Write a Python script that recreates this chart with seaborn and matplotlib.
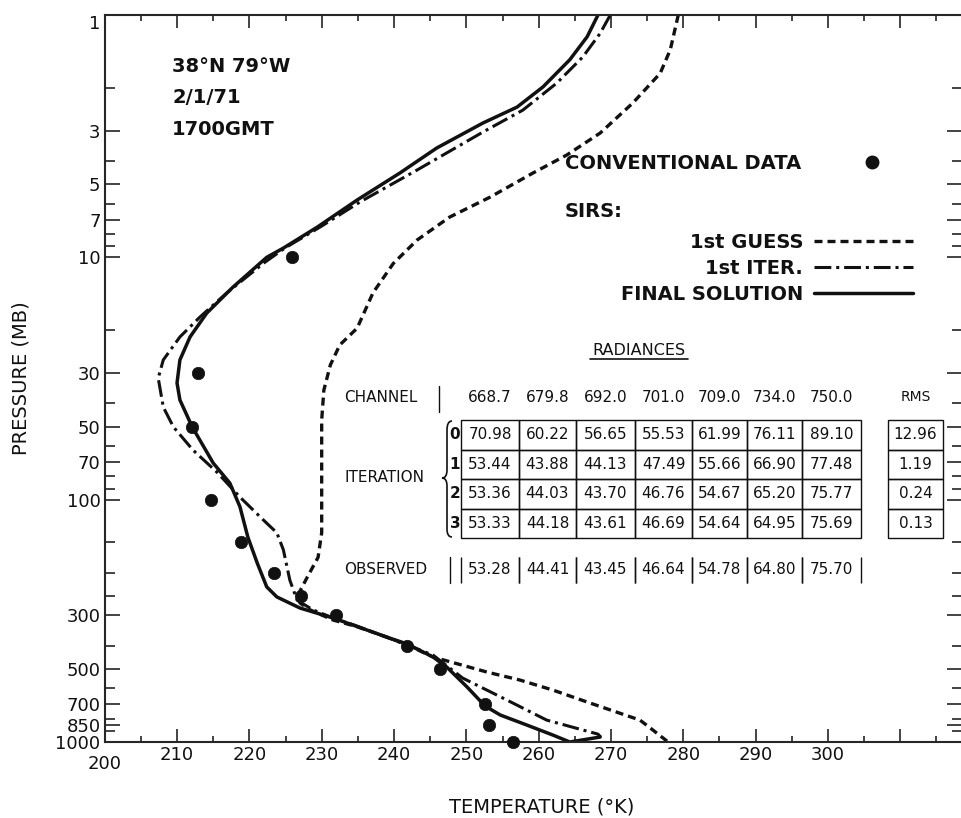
import numpy as np
import matplotlib
matplotlib.use('Agg')
import matplotlib.pyplot as plt
import matplotlib.transforms as mtransforms
import seaborn as sns
from matplotlib.lines import Line2D
from matplotlib.path import Path
from matplotlib.patches import PathPatch
from matplotlib.ticker import NullFormatter

# ── Data ─────────────────────────────────────────────────────────────────────
final_t = [268.2, 266.7, 264.3, 260.6, 257.0, 252.3, 245.9, 240.8, 234.9, 229.4,
           224.7, 222.4, 217.7, 214.1, 211.8, 210.4, 210.0, 210.4, 212.1, 215.0,
           217.3, 218.7, 219.8, 221.1, 222.4, 223.8, 227.0, 231.6, 234.3, 239.0,
           241.8, 245.4, 247.3, 250.1, 252.6, 254.7, 258.4, 262.0, 264.3, 268.5]
final_p = [1.0, 1.23, 1.53, 1.98, 2.40, 2.79, 3.54, 4.49, 5.80, 7.50,
           9.16, 10.0, 13.3, 17.0, 21.3, 26.5, 33.0, 38.8, 50.1, 70.6,
           85.4, 107, 143, 183, 229, 252, 280, 308, 329, 369,
           394, 446, 491, 593, 711, 774, 852, 937, 1000, 954]

iter_t = [269.9, 268.5, 266.1, 262.5, 257.8, 252.3, 243.2, 235.3, 230.0, 224.9,
          222.1, 216.9, 213.2, 210.4, 208.1, 207.4, 208.1, 209.5, 212.2, 215.5,
          218.7, 221.9, 223.8, 224.7, 225.6, 226.6, 228.8, 231.6, 234.6, 238.8,
          241.8, 245.4, 249.5, 255.6, 261.1, 268.2, 268.6]
iter_p = [1.0, 1.19, 1.49, 1.91, 2.47, 3.04, 4.36, 5.91, 7.43, 9.16,
          10.5, 14.0, 17.6, 21.3, 26.5, 31.5, 41.5, 50.1, 62.4, 76.9,
          97.6, 121, 137, 161, 215, 260, 285, 308, 330, 368,
          398, 438, 545, 671, 812, 928, 955]

guess_t = [279.3, 278.2, 276.8, 273.0, 268.5, 263.9, 259.2, 253.3, 247.7, 243.2,
           239.9, 237.1, 234.9, 232.5, 231.2, 230.3, 230.0, 230.0, 230.0, 229.5,
           228.0, 226.7, 227.0, 228.4, 231.6, 235.0, 239.0, 241.8, 245.4, 252.9,
           257.4, 262.0, 266.7, 274.0, 275.8, 277.9]
guess_p = [1.0, 1.39, 1.74, 2.31, 3.07, 3.78, 4.49, 5.64, 6.82, 8.48,
           10.6, 14.0, 19.6, 23.0, 27.8, 35.3, 46.9, 100, 137, 173,
           209, 248, 267, 285, 314, 335, 369, 397, 446, 515,
           555, 611, 684, 812, 893, 1000]

obs_t = [225.9, 212.9, 212.1, 214.7, 218.8, 223.4, 227.1, 232.0, 241.8, 246.4,
         252.6, 253.1, 256.5]
obs_p = [10, 30, 50, 100, 150, 200, 250, 300, 400, 500, 700, 850, 1000]

p_ticks = [1, 3, 5, 7, 10, 30, 50, 70, 100, 300, 500, 700, 850, 1000]
p_minor = [2, 4, 6, 8, 9, 20, 40, 60, 80, 90, 150, 200, 250, 400, 600, 800, 900]
t_ticks = list(range(200, 320, 10))
t_labels = [''] + [str(t) for t in range(210, 310, 10)] + ['']

channels = ['668.7', '679.8', '692.0', '701.0', '709.0', '734.0', '750.0']
rad_iter = [[70.98, 60.22, 56.65, 55.53, 61.99, 76.11, 89.10],
            [53.44, 43.88, 44.13, 47.49, 55.66, 66.90, 77.48],
            [53.36, 44.03, 43.70, 46.76, 54.67, 65.20, 75.77],
            [53.33, 44.18, 43.61, 46.69, 54.64, 64.95, 75.69]]
rms = [12.96, 1.19, 0.24, 0.13]
rad_obs = [53.28, 44.41, 43.45, 46.64, 54.78, 64.80, 75.70]

# ── Style ────────────────────────────────────────────────────────────────────
sns.set_theme(style='ticks')
plt.rcParams['font.family'] = ['DejaVu Sans']
plt.rcParams['axes.linewidth'] = 1.5
INK = '#111111'

W, H = 961, 818
fig = plt.figure(figsize=(W / 100, H / 100), dpi=100)
# reference pixel coordinates -> figure
px = mtransforms.Affine2D().scale(1 / W, -1 / H).translate(0, 1) + fig.transFigure

ax = fig.add_axes([104.7 / W, 76 / H, 857.1 / W, 727 / H])
ax.set_yscale('log')

guess_ls = (0, (2.4, 1.5))
iter_ls = (0, (5.5, 1.6, 1.0, 1.6))

sns.lineplot(x=guess_t, y=guess_p, sort=False, estimator=None, color=INK,
             lw=2.4, linestyle=guess_ls, ax=ax)
sns.lineplot(x=iter_t, y=iter_p, sort=False, estimator=None, color=INK,
             lw=2.2, linestyle=iter_ls, ax=ax)
sns.lineplot(x=final_t, y=final_p, sort=False, estimator=None, color=INK,
             lw=2.5, ax=ax)
sns.scatterplot(x=obs_t, y=obs_p, color=INK, edgecolor=INK, s=80, linewidth=0.5,
                zorder=5, clip_on=False, ax=ax)

# ── Axes ─────────────────────────────────────────────────────────────────────
ax.set_xlim(200, 318.5)
ax.set_ylim(1000, 1)
ax.set_xticks(t_ticks, labels=t_labels)
ax.set_xticks(np.arange(205, 320, 10), minor=True)
ax.set_yticks(p_ticks, labels=[str(p) for p in p_ticks])
ax.set_yticks(p_minor, minor=True)
ax.yaxis.set_minor_formatter(NullFormatter())
ax.tick_params(which='both', direction='in', top=True, right=True,
               labelsize=13, pad=3, colors=INK, width=1.1)
ax.tick_params(axis='x', which='major', length=9.5)
ax.tick_params(axis='x', which='minor', length=4.5)
ax.tick_params(axis='y', which='major', length=11)
ax.tick_params(axis='y', which='minor', length=7)
ax.spines['right'].set_visible(False)
ax.get_yticklabels()[0].set_verticalalignment('top')
ax.text(200, -13 / 727, '200', transform=ax.get_xaxis_transform(),
        ha='center', va='top', fontsize=13, color=INK)

ax.set_xlabel('TEMPERATURE (°K)', fontsize=14, color=INK)
ax.xaxis.set_label_coords(0.51, -0.077)
ax.set_ylabel('PRESSURE (MB)', fontsize=14, color=INK)
ax.yaxis.set_label_coords(-0.087, 0.5)

# ── Station info ─────────────────────────────────────────────────────────────
for txt, yb in [('38°N 79°W', 72), ('2/1/71', 103), ('1700GMT', 135)]:
    fig.text(172, yb, txt, transform=px, fontsize=14, weight='bold',
             ha='left', va='baseline', color=INK)

# ── Legend ───────────────────────────────────────────────────────────────────
bold = dict(size=14, weight='bold')
dot = Line2D([], [], color=INK, marker='o', markersize=9, linestyle='none')
fig.legend([dot], ['CONVENTIONAL DATA'], loc='upper left',
           bbox_to_anchor=(565, 154), bbox_transform=px, markerfirst=False,
           frameon=False, borderpad=0, borderaxespad=0, handlelength=2,
           handletextpad=2.65, prop=bold, labelcolor=INK)
fig.text(565, 217, 'SIRS:', transform=px, fontsize=14, weight='bold',
         ha='left', va='baseline', color=INK)
sirs_handles = [Line2D([], [], color=INK, lw=2.4, linestyle=guess_ls),
                Line2D([], [], color=INK, lw=2.2, linestyle=iter_ls),
                Line2D([], [], color=INK, lw=2.5)]
fig.legend(sirs_handles, ['1st GUESS', '1st ITER.', 'FINAL SOLUTION'],
           loc='upper right', bbox_to_anchor=(913, 233), bbox_transform=px,
           markerfirst=False, frameon=False, borderpad=0, borderaxespad=0,
           handlelength=5.1, handletextpad=0.55, labelspacing=0.35,
           prop=bold, labelcolor=INK)

# ── Radiance table ───────────────────────────────────────────────────────────
fs_tab = 11
fig.text(639, 355, 'RADIANCES', transform=px, fontsize=fs_tab + 0.5,
         ha='center', va='baseline', color=INK)
fig.add_artist(Line2D([590, 688], [359, 359], transform=px, color=INK, lw=1.2))

col_edges = [461, 519, 576, 635, 692, 747, 802, 861]
rms_edges = [888, 943]
top_y, bot_y = 420, 538
obs_top, obs_bot = 557, 583

x0_ax = lambda xp: (xp - 104.7) / 857.1
y0_ax = lambda yp: (742 - yp) / 727

widths = list(np.diff(col_edges)) + [rms_edges[0] - col_edges[-1], rms_edges[1] - rms_edges[0]]
cells = [[f'{v:.2f}' for v in row] + ['', f'{r:.2f}'] for row, r in zip(rad_iter, rms)]
tab = ax.table(cellText=cells, colWidths=widths, cellLoc='center',
               bbox=[x0_ax(col_edges[0]), y0_ax(bot_y),
                     (rms_edges[1] - col_edges[0]) / 857.1, (bot_y - top_y) / 727])
tab.auto_set_font_size(False)
tab.set_fontsize(fs_tab)
for (r, c), cell in tab.get_celld().items():
    cell.set_linewidth(1.0)
    cell.set_edgecolor(INK)
    cell.set_facecolor('none')
    cell.get_text().set_color(INK)
    if c == len(channels):
        cell.visible_edges = ''

tab_obs = ax.table(cellText=[[f'{v:.2f}' for v in rad_obs]],
                   colWidths=list(np.diff(col_edges)), cellLoc='center',
                   bbox=[x0_ax(col_edges[0]), y0_ax(obs_bot),
                         (col_edges[-1] - col_edges[0]) / 857.1,
                         (obs_bot - obs_top) / 727])
tab_obs.auto_set_font_size(False)
tab_obs.set_fontsize(fs_tab)
for cell in tab_obs.get_celld().values():
    cell.visible_edges = 'LR'
    cell.set_linewidth(1.0)
    cell.set_edgecolor(INK)
    cell.set_facecolor('none')
    cell.get_text().set_color(INK)

centers = [(a + b) / 2 for a, b in zip(col_edges[:-1], col_edges[1:])]
for ch, xc in zip(channels, centers):
    fig.text(xc, 397, ch, transform=px, fontsize=fs_tab, ha='center',
             va='center', color=INK)
fig.text(916, 397, 'RMS', transform=px, fontsize=fs_tab - 1, ha='center',
         va='center', color=INK)
fig.text(344, 397, 'CHANNEL', transform=px, fontsize=fs_tab, ha='left',
         va='center', color=INK)
fig.add_artist(Line2D([439, 439], [386, 412], transform=px, color=INK, lw=1.0))
fig.text(344, 478, 'ITERATION', transform=px, fontsize=fs_tab, ha='left',
         va='center', color=INK)
fig.text(344, 569, 'OBSERVED', transform=px, fontsize=fs_tab, ha='left',
         va='center', color=INK)
fig.add_artist(Line2D([450, 450], [557, 583], transform=px, color=INK, lw=1.0))

row_h = (bot_y - top_y) / 4
for i in range(4):
    fig.text(455, top_y + row_h * (i + 0.5), str(i), transform=px,
             fontsize=fs_tab, weight='bold', ha='center', va='center', color=INK)

brace = Path([(452, 421), (447, 421), (447, 430), (447, 470), (447, 478),
              (442, 478), (447, 478), (447, 486), (447, 529), (447, 537),
              (452, 537)],
             [Path.MOVETO, Path.CURVE3, Path.CURVE3, Path.LINETO, Path.CURVE3,
              Path.CURVE3, Path.CURVE3, Path.CURVE3, Path.LINETO, Path.CURVE3,
              Path.CURVE3])
fig.add_artist(PathPatch(brace, transform=px, fill=False, lw=1.2, edgecolor=INK))

fig.savefig('out.png', dpi=100)
